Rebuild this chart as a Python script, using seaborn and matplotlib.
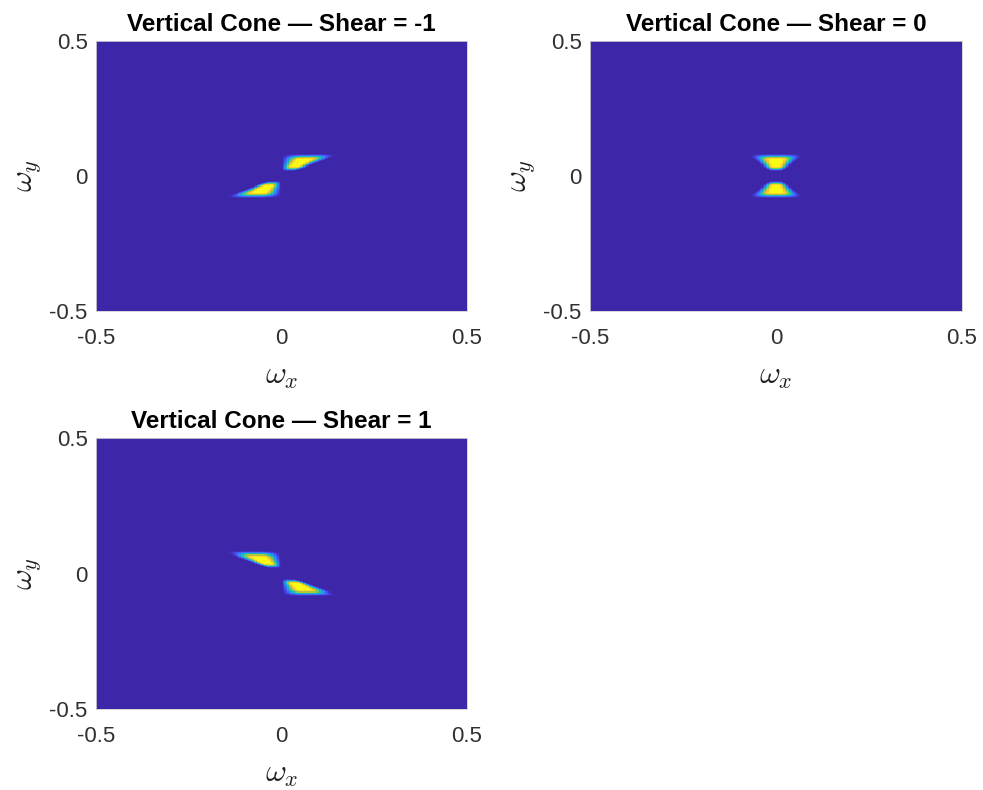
import numpy as np
import pandas as pd
import matplotlib
matplotlib.use("Agg")
import matplotlib.pyplot as plt
import seaborn as sns
from matplotlib.colors import LinearSegmentedColormap

# ---- chart content ----
titles = ["Vertical Cone — Shear = -1", "Vertical Cone — Shear = 0", "Vertical Cone — Shear = 1"]
shears = [-1, 0, 1]
# radial band in |w_y|: zero below e0, full between e1..e2, zero above e3
band_edges = [0.019, 0.037, 0.060, 0.083]
# cone window in t = w_x/w_y + shear: full for |t|<c0, zero for |t|>c1
cone_edges = [0.22, 1.00]
tick_values = [-0.5, 0, 0.5]
tick_labels = ["-0.5", "0", "0.5"]
n_grid = 256

# parula-like colormap anchors
parula_pos = [0.0, 0.1, 0.2, 0.3, 0.4, 0.5, 0.6, 0.7, 0.8, 0.9, 1.0]
parula_rgb = [(0.2422, 0.1504, 0.6603), (0.2760, 0.2850, 0.9310), (0.2440, 0.4440, 0.9970),
              (0.1360, 0.5940, 0.9200), (0.0590, 0.6930, 0.8330), (0.1540, 0.7620, 0.6520),
              (0.3860, 0.8020, 0.4130), (0.6700, 0.7800, 0.2200), (0.9050, 0.7290, 0.2540),
              (0.9930, 0.8200, 0.1770), (0.9769, 0.9839, 0.0805)]
parula = LinearSegmentedColormap.from_list("parula", list(zip(parula_pos, parula_rgb)))


def smoothstep(x):
    x = np.clip(x, 0, 1)
    return 0.5 * (1 - np.cos(np.pi * x))


freq = (np.arange(n_grid) + 0.5) / n_grid - 0.5
WX, WY = np.meshgrid(freq, freq[::-1])  # rows from +0.5 (top) to -0.5 (bottom)
ay = np.abs(WY)
e0, e1, e2, e3 = band_edges
radial = smoothstep((ay - e0) / (e1 - e0)) * (1 - smoothstep((ay - e2) / (e3 - e2)))

sns.set_style("white")
plt.rcParams["font.family"] = ["Liberation Sans", "DejaVu Sans"]
plt.rcParams["mathtext.fontset"] = "cm"

fig = plt.figure(figsize=(9.83, 7.90), dpi=100)
W, H = 983, 790
boxes = [(96, 41, 467, 311), (590, 41, 962, 311), (96, 438, 467, 709)]

for title, shear, (l, t, r, b) in zip(titles, shears, boxes):
    ax = fig.add_axes([l / W, 1 - b / H, (r - l) / W, (b - t) / H])
    with np.errstate(divide="ignore", invalid="ignore"):
        tt = WX / WY + shear
    c0, c1 = cone_edges
    cone = 1 - smoothstep((np.abs(tt) - c0) / (c1 - c0))
    cone = np.nan_to_num(cone)
    vals = radial * cone
    vals = vals / vals.max()
    df = pd.DataFrame(vals, index=np.round(freq[::-1], 4), columns=np.round(freq, 4))
    sns.heatmap(df, ax=ax, cmap=parula, vmin=0, vmax=1, cbar=False,
                xticklabels=False, yticklabels=False, rasterized=True)
    pos = [(v + 0.5) * n_grid for v in tick_values]
    ax.set_xticks(pos)
    ax.set_xticklabels(tick_labels)
    ax.set_yticks(pos)
    ax.set_yticklabels(tick_labels[::-1])
    ax.tick_params(length=0, labelsize=16, colors="#303030")
    ax.tick_params(axis="x", pad=12)
    ax.tick_params(axis="y", pad=6)
    plt.setp(ax.get_yticklabels(), rotation=0)
    plt.setp(ax.get_xticklabels(), rotation=0)
    for s in ax.spines.values():
        s.set_visible(True)
        s.set_color("#d0d0d0")
        s.set_linewidth(0.6)
    ax.set_title(title, fontsize=17.5, fontweight="bold", pad=7, color="black")
    ax.set_xlabel(r"$\omega_x$", fontsize=23, color="#202020")
    ax.set_ylabel(r"$\omega_y$", fontsize=23, color="#202020")
    ax.xaxis.set_label_coords(0.5, -0.185)
    ax.yaxis.set_label_coords(-0.14, 0.5)

fig.savefig("out.png", dpi=100)
